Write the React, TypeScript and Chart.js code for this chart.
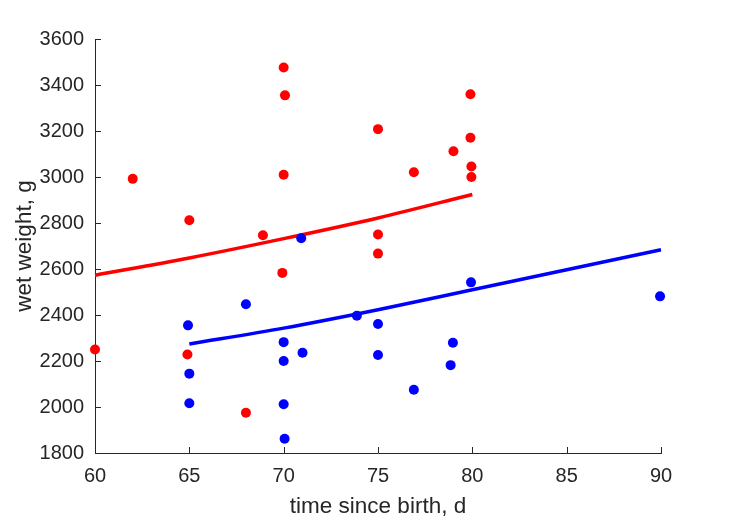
import { useEffect, useRef } from "react";
import { Chart, registerables } from "chart.js";

Chart.register(...registerables);

// Red group (scatter)
const redX = [60, 62, 65, 64.9, 68, 68.9, 70, 70.07, 70, 69.93, 75, 75, 75, 76.9, 79, 79.9, 79.9, 79.95, 79.95];
const redY = [2250, 2992, 2812, 2228, 1975, 2747, 3476, 3355, 3010, 2583, 3208, 2750, 2667, 3021, 3112, 3360, 3171, 3046, 3000];

// Blue group (scatter)
const blueX = [70.93, 68, 64.93, 65, 65, 70, 70, 70, 70.05, 71, 73.88, 75, 75, 79.93, 78.97, 78.85, 76.9, 89.95];
const blueY = [2734, 2447, 2355, 2145, 2016, 2282, 2200, 2012, 1862, 2236, 2397, 2361, 2226, 2542, 2279, 2182, 2075, 2481];

// Fitted curves
const redFitX = [60, 65, 70, 75, 80];
const redFitY = [2573, 2648, 2732, 2822, 2924];
const blueFitX = [65, 70, 75, 80, 85, 90];
const blueFitY = [2274, 2343, 2423, 2510, 2597, 2684];

const xTicks = [60, 65, 70, 75, 80, 85, 90];
const yTicks = [1800, 2000, 2200, 2400, 2600, 2800, 3000, 3200, 3400, 3600];

const xTitle = "time since birth, d";
const yTitle = "wet weight, g";

const RED = "#ff0000";
const BLUE = "#0000ff";
const AXIS = "#262626";
const FONT = "'Liberation Sans', Arial, Helvetica, sans-serif";

const pts = (xs: number[], ys: number[]) => xs.map((x, i) => ({ x, y: ys[i] }));

const inwardTicks = {
  id: "inwardTicks",
  afterDatasetsDraw(chart: any) {
    const { ctx, chartArea, scales } = chart;
    const xs = scales.x;
    const ys = scales.y;
    ctx.save();
    ctx.strokeStyle = AXIS;
    ctx.lineWidth = 1;
    ctx.beginPath();
    xs.ticks.forEach((t: any) => {
      const px = Math.round(xs.getPixelForValue(t.value)) + 0.5;
      ctx.moveTo(px, chartArea.bottom);
      ctx.lineTo(px, chartArea.bottom - 6);
    });
    ys.ticks.forEach((t: any) => {
      const py = Math.round(ys.getPixelForValue(t.value)) + 0.5;
      ctx.moveTo(chartArea.left, py);
      ctx.lineTo(chartArea.left + 6, py);
    });
    ctx.stroke();
    ctx.restore();
  },
};

export default function App() {
  const ref = useRef<HTMLCanvasElement | null>(null);

  useEffect(() => {
    if (!ref.current) return;
    const chart = new Chart(ref.current, {
      type: "scatter",
      data: {
        datasets: [
          {
            label: "blue fit",
            data: pts(blueFitX, blueFitY),
            showLine: true,
            borderColor: BLUE,
            borderWidth: 3.5,
            pointRadius: 0,
            cubicInterpolationMode: "monotone",
            order: 0,
            clip: false,
          } as any,
          {
            label: "blue",
            data: pts(blueX, blueY),
            backgroundColor: BLUE,
            borderColor: BLUE,
            borderWidth: 0,
            pointRadius: 5,
            order: 1,
            clip: false,
          },
          {
            label: "red fit",
            data: pts(redFitX, redFitY),
            showLine: true,
            borderColor: RED,
            borderWidth: 3.5,
            pointRadius: 0,
            cubicInterpolationMode: "monotone",
            order: 2,
            clip: false,
          } as any,
          {
            label: "red",
            data: pts(redX, redY),
            backgroundColor: RED,
            borderColor: RED,
            borderWidth: 0,
            pointRadius: 5,
            order: 3,
            clip: false,
          },
        ],
      },
      options: {
        animation: false,
        responsive: false,
        maintainAspectRatio: false,
        layout: { padding: { left: 0, top: 39, right: 68, bottom: 0 } },
        plugins: {
          legend: { display: false },
          tooltip: { enabled: false },
        },
        scales: {
          x: {
            type: "linear",
            min: 60,
            max: 90,
            afterBuildTicks: (s: any) => {
              s.ticks = xTicks.map((v) => ({ value: v }));
            },
            afterFit: (s: any) => {
              s.height = 68;
            },
            grid: { display: false, drawTicks: false, tickLength: 0 },
            border: { display: true, color: AXIS, width: 1 },
            ticks: {
              color: AXIS,
              padding: 11,
              font: { family: FONT, size: 20 },
              maxRotation: 0,
            },
            title: {
              display: true,
              text: xTitle,
              color: AXIS,
              font: { family: FONT, size: 22.5 },
              padding: { top: 0, bottom: 1 },
            },
          },
          y: {
            type: "linear",
            min: 1800,
            max: 3600,
            afterBuildTicks: (s: any) => {
              s.ticks = yTicks.map((v) => ({ value: v }));
            },
            afterFit: (s: any) => {
              s.width = 95;
            },
            grid: { display: false, drawTicks: false, tickLength: 0 },
            border: { display: true, color: AXIS, width: 1 },
            ticks: {
              color: AXIS,
              padding: 11,
              font: { family: FONT, size: 20 },
              callback: (v: any) => String(v),
            },
            title: {
              display: true,
              text: yTitle,
              color: AXIS,
              font: { family: FONT, size: 22.5 },
              padding: { top: 11.5, bottom: 0 },
            },
          },
        },
      },
      plugins: [inwardTicks],
    });
    return () => chart.destroy();
  }, []);

  return (
    <div style={{ position: "absolute", left: 0, top: 0, width: 729, height: 521, background: "#fff" }}>
      <canvas ref={ref} width={729} height={521} style={{ width: 729, height: 521, display: "block" }} />
    </div>
  );
}
